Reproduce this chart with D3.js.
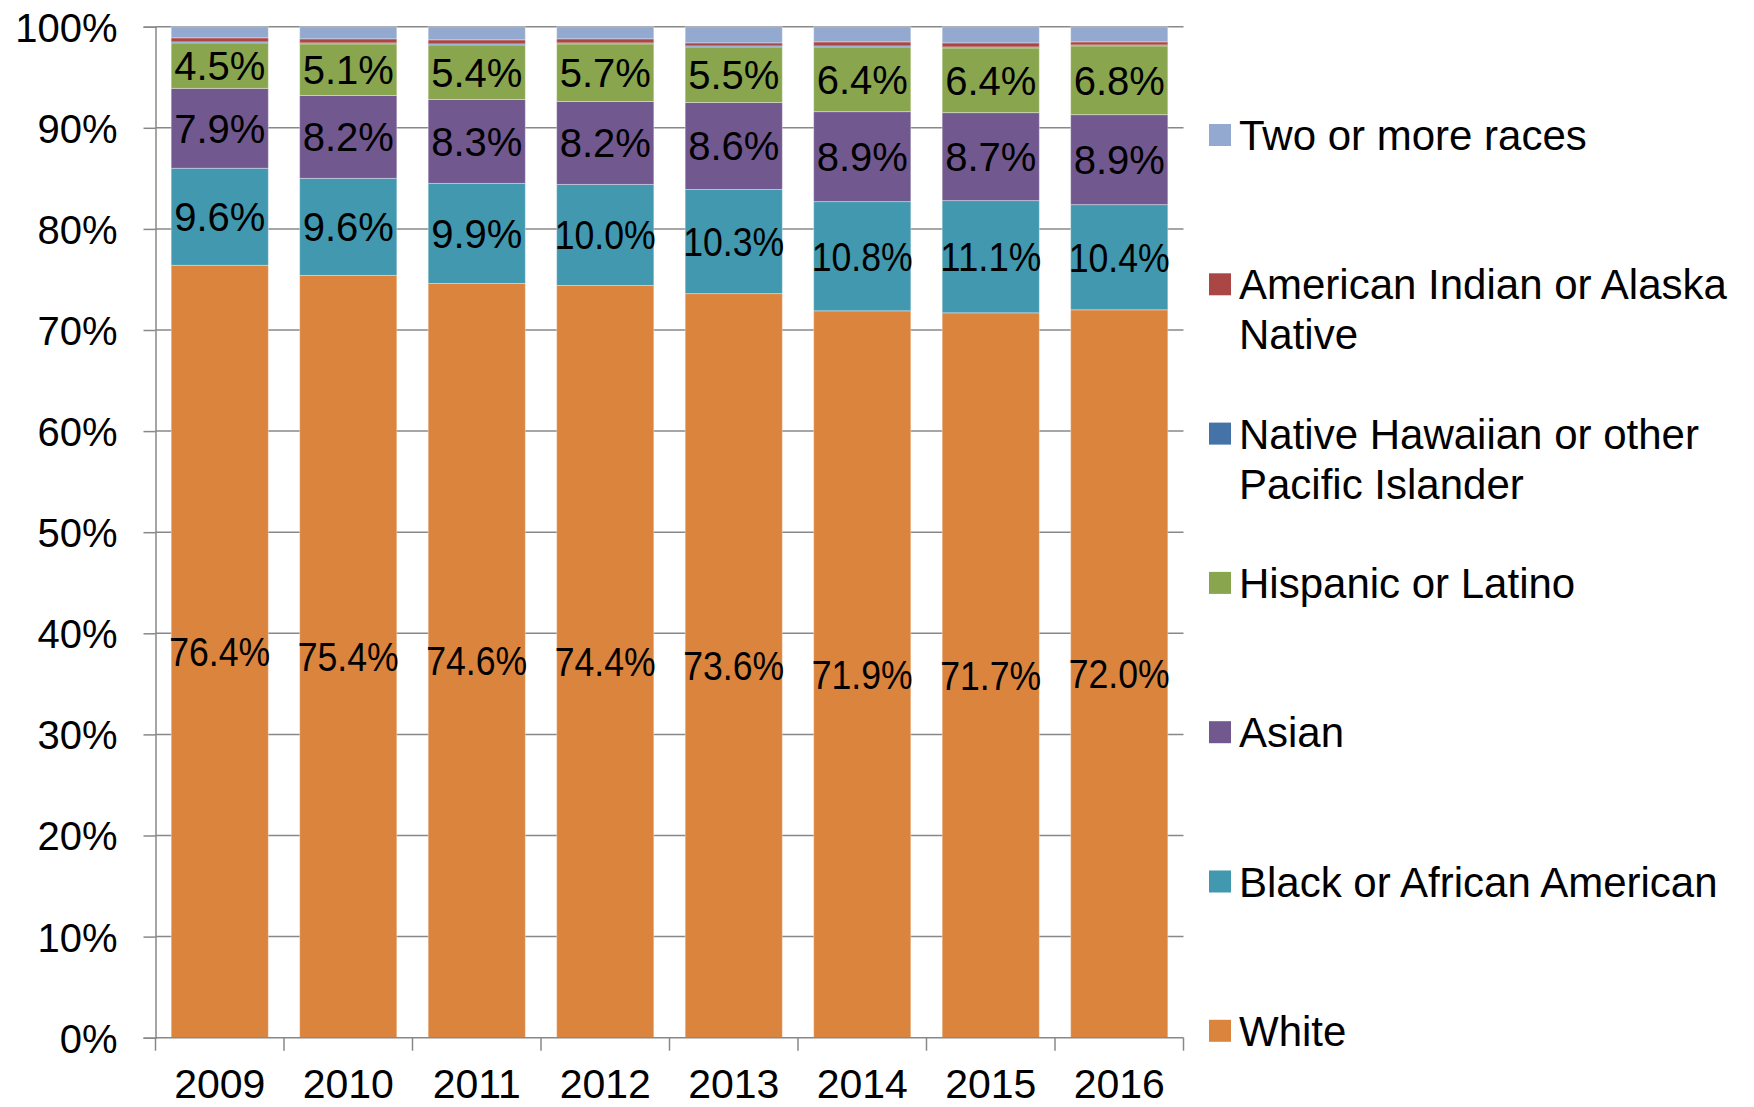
<!DOCTYPE html>
<html>
<head>
<meta charset="utf-8">
<script src="https://cdn.jsdelivr.net/npm/d3@7"></script>
<style>
  body { margin: 0; background: #fff; }
  svg { display: block; font-family: "Liberation Sans", Arial, sans-serif; }
</style>
</head>
<body>
<svg id="chart" width="1754" height="1107"></svg>
<script>
// categories
const years = ["2009", "2010", "2011", "2012", "2013", "2014", "2015", "2016"];

// series, bottom of the stack first
const seriesNames = [
    "White",
    "Black or African American",
    "Asian",
    "Hispanic or Latino",
    "Native Hawaiian or other Pacific Islander",
    "American Indian or Alaska Native",
    "Two or more races"
];
const white = [76.4, 75.4, 74.6, 74.4, 73.6, 71.9, 71.7, 72.0];
const black = [9.6, 9.6, 9.9, 10.0, 10.3, 10.8, 11.1, 10.4];
const asian = [7.9, 8.2, 8.3, 8.2, 8.6, 8.9, 8.7, 8.9];
const hispanic = [4.5, 5.1, 5.4, 5.7, 5.5, 6.4, 6.4, 6.8];
const nativeHawaiian = [0.1, 0.1, 0.1, 0.1, 0.1, 0.1, 0.1, 0.1];
const amIndian = [0.4, 0.4, 0.4, 0.4, 0.3, 0.4, 0.4, 0.3];
const twoOrMore = [1.1, 1.2, 1.3, 1.2, 1.6, 1.5, 1.6, 1.5];

const seriesValues = [white, black, asian, hispanic, nativeHawaiian, amIndian, twoOrMore];
const seriesColors = ["#DB843D", "#4198AF", "#71588F", "#89A54E", "#4572A7", "#AA4643", "#93A9CF"];
const labelledSeries = ["White", "Black or African American", "Asian", "Hispanic or Latino"];

// y tick labels
const yTicks = [0, 10, 20, 30, 40, 50, 60, 70, 80, 90, 100];

// build rows for d3.stack
const rows = years.map(function(year, i) {
    var row = {year: year};
    seriesNames.forEach(function(name, s) {
        row[name] = seriesValues[s][i];
    });
    return row;
});

const svg = d3.select("#chart");
const axisColor = "#888888";

const x = d3.scaleBand()
    .domain(years)
    .range([155.5, 1183.5])
    .paddingInner(0.244)
    .paddingOuter(0.122);

const y = d3.scaleLinear()
    .domain([0, 100])
    .range([1037.7, 26.7]);

const color = d3.scaleOrdinal()
    .domain(seriesNames)
    .range(seriesColors);

// gridlines
svg.append("g")
    .selectAll("line")
    .data(yTicks.filter(function(t) { return t > 0; }))
    .enter().append("line")
    .attr("x1", x.range()[0])
    .attr("x2", x.range()[1])
    .attr("y1", function(d) { return y(d); })
    .attr("y2", function(d) { return y(d); })
    .attr("stroke", axisColor)
    .attr("stroke-width", 1.5);

// stacked bars
const stacked = d3.stack().keys(seriesNames)(rows);

const layers = svg.append("g")
    .selectAll("g")
    .data(stacked)
    .enter().append("g")
    .attr("fill", function(d) { return color(d.key); });

layers.selectAll("rect")
    .data(function(d) { return d; })
    .enter().append("rect")
    .attr("x", function(d) { return x(d.data.year); })
    .attr("width", x.bandwidth())
    .attr("y", function(d) { return y(d[1]); })
    .attr("height", function(d) { return y(d[0]) - y(d[1]); })
    .attr("stroke", "#ffffff")
    .attr("stroke-opacity", 0.35)
    .attr("stroke-width", 1);

// data labels, centred in each segment
const fmt = d3.format(".1f");
const maxLabelWidth = 101;

svg.append("g")
    .selectAll("g")
    .data(stacked.filter(function(d) { return labelledSeries.indexOf(d.key) >= 0; }))
    .enter().append("g")
    .selectAll("text")
    .data(function(d) { return d; })
    .enter().append("text")
    .attr("x", function(d) { return x(d.data.year) + x.bandwidth() / 2; })
    .attr("y", function(d) { return y((d[0] + d[1]) / 2); })
    .attr("dy", "0.36em")
    .attr("text-anchor", "middle")
    .style("font-size", "40px")
    .style("fill", "#000")
    .text(function(d) { return fmt(d[1] - d[0]) + "%"; })
    .each(function() {
        // long labels get squeezed to about the bar width
        if (this.getComputedTextLength() > maxLabelWidth) {
            d3.select(this)
                .attr("textLength", maxLabelWidth)
                .attr("lengthAdjust", "spacingAndGlyphs");
        }
    });

// y axis
const yAxis = svg.append("g")
    .attr("transform", "translate(" + x.range()[0] + ",0)")
    .call(d3.axisLeft(y)
        .tickValues(yTicks)
        .tickSize(12)
        .tickPadding(26)
        .tickFormat(function(d) { return d + "%"; }));

yAxis.select(".domain").attr("stroke", axisColor).attr("stroke-width", 1.5);
yAxis.selectAll(".tick line").attr("stroke", axisColor).attr("stroke-width", 1.5);
yAxis.selectAll(".tick text")
    .style("font-size", "40px")
    .style("font-family", "'Liberation Sans', Arial, sans-serif")
    .attr("fill", "#000")
    .attr("dy", "0.36em");

// x axis, ticks sit on band edges
const xAxis = svg.append("g")
    .attr("transform", "translate(0," + y(0) + ")");

xAxis.append("line")
    .attr("x1", x.range()[0])
    .attr("x2", x.range()[1])
    .attr("stroke", axisColor)
    .attr("stroke-width", 1.5);

const edges = years.map(function(yr) { return x(yr) - x.step() * x.paddingOuter(); })
    .concat([x.range()[1]]);

xAxis.selectAll(".edge")
    .data(edges)
    .enter().append("line")
    .attr("class", "edge")
    .attr("x1", function(d) { return d; })
    .attr("x2", function(d) { return d; })
    .attr("y1", 0)
    .attr("y2", 13)
    .attr("stroke", axisColor)
    .attr("stroke-width", 1.5);

xAxis.selectAll(".year")
    .data(years)
    .enter().append("text")
    .attr("class", "year")
    .attr("x", function(d) { return x(d) + x.bandwidth() / 2; })
    .attr("y", 60)
    .attr("text-anchor", "middle")
    .style("font-size", "41px")
    .style("fill", "#000")
    .text(function(d) { return d; });

// legend, top item first
const legendItems = seriesNames.slice().reverse();
const legendTop = 135;
const legendStep = 149.3;
const legendWrap = 505;

const legend = svg.append("g")
    .selectAll("g")
    .data(legendItems)
    .enter().append("g")
    .attr("transform", function(d, i) { return "translate(1209," + (legendTop + i * legendStep) + ")"; });

legend.append("rect")
    .attr("x", 0)
    .attr("y", -11)
    .attr("width", 22)
    .attr("height", 22)
    .attr("fill", function(d) { return color(d); });

legend.append("text")
    .attr("x", 30)
    .attr("y", 15)
    .style("font-size", "42px")
    .style("fill", "#000")
    .each(function(d) {
        // simple word wrap
        var text = d3.select(this);
        var words = d.split(" ");
        var line = [];
        var tspan = text.append("tspan").attr("x", 30).attr("dy", 0);
        words.forEach(function(word) {
            line.push(word);
            tspan.text(line.join(" "));
            if (tspan.node().getComputedTextLength() > legendWrap && line.length > 1) {
                line.pop();
                tspan.text(line.join(" "));
                line = [word];
                tspan = text.append("tspan").attr("x", 30).attr("dy", 50).text(word);
            }
        });
    });
</script>
</body>
</html>
